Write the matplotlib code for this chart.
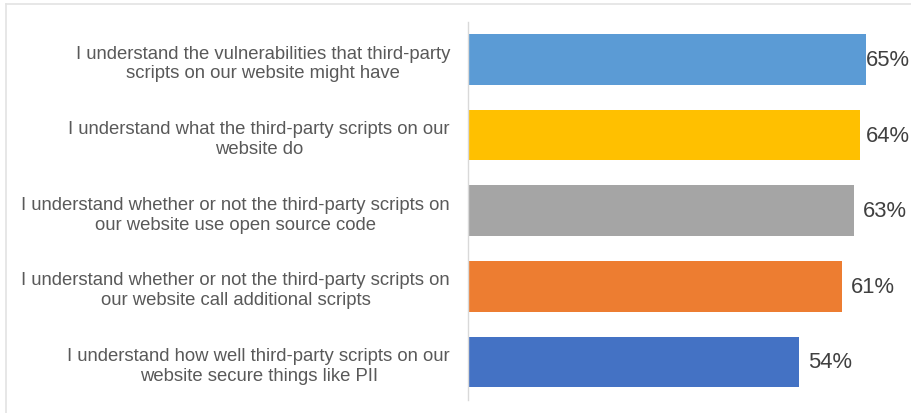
import numpy as np
import matplotlib
matplotlib.use("Agg")
import matplotlib.pyplot as plt
from matplotlib.lines import Line2D

categories = [
    "I understand the vulnerabilities that third-party\nscripts on our website might have",
    "I understand what the third-party scripts on our\nwebsite do",
    "I understand whether or not the third-party scripts on\nour website use open source code",
    "I understand whether or not the third-party scripts on\nour website call additional scripts",
    "I understand how well third-party scripts on our\nwebsite secure things like PII",
]
values = np.array([65, 64, 63, 61, 54])
colors = ["#5B9BD5", "#FFC000", "#A5A5A5", "#ED7D31", "#4472C4"]

plt.rcParams["font.family"] = ["Liberation Sans", "DejaVu Sans"]

fig = plt.figure(figsize=(9.11, 4.14), dpi=100)
ax = fig.add_axes([0.5137, 0.032, 0.4843, 0.913])

y = np.arange(len(categories))
ax.barh(y, values, height=0.67, color=colors)
ax.set_ylim(len(categories) - 0.5, -0.5)
ax.set_xlim(0, 72)

# value labels, kept inside the plotting area for the longest bar
label_x = np.minimum(values + 1.5, 65.0)
for yi, xi, v in zip(y, label_x, values):
    ax.text(xi, yi, f"{v}%", va="center", ha="left", fontsize=15.8, color="#404040")

ax.set_yticks(y)
ax.set_yticklabels(categories, fontsize=13.3, color="#595959",
                   ha="right", multialignment="center", linespacing=1.22)
ax.tick_params(axis="y", length=0, pad=13)
ax.set_xticks([])
for side in ["top", "right", "bottom"]:
    ax.spines[side].set_visible(False)
ax.spines["left"].set_color("#D9D9D9")
ax.spines["left"].set_linewidth(1.0)

# outer chart frame (top and left edges)
fig.add_artist(Line2D([6 / 911, 1], [1 - 5 / 414, 1 - 5 / 414], color="#E3E3E3", lw=1.2))
fig.add_artist(Line2D([6 / 911, 6 / 911], [0, 1 - 5 / 414], color="#E3E3E3", lw=1.2))

fig.savefig("out.png", dpi=100)
